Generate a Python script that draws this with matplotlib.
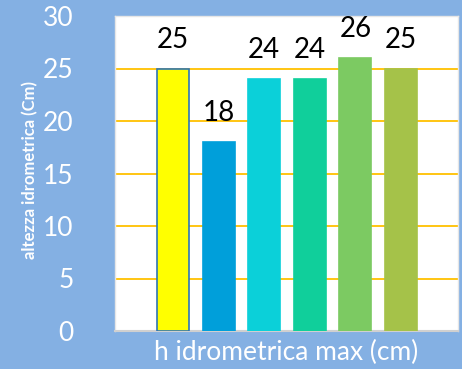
import matplotlib.pyplot as plt
import numpy as np

plt.rcParams["font.family"] = ["Lato", "DejaVu Sans"]

values = [25, 18, 24, 24, 26, 25]
colors = ["#FFFF00", "#009FDA", "#0BD0D9", "#10CF9B", "#7CCA62", "#A5C249"]
edges = ["#2E75B6", "#009FDA", "#0BD0D9", "#10CF9B", "#7CCA62", "#A5C249"]
xlabel = "h idrometrica max (cm)"
ylabel = "altezza idrometrica (Cm)"

bg = "#84B0E3"

fig = plt.figure(figsize=(4.62, 3.69), dpi=100, facecolor=bg)
ax = fig.add_axes([115 / 462, 1 - 331 / 369, 343 / 462, 315 / 369])
ax.set_facecolor("white")

x = np.arange(len(values))
ax.bar(x, values, width=0.70, color=colors, edgecolor=edges, linewidth=1.2, zorder=3)
for xi, v in zip(x, values):
    ax.text(xi, v + 1.5, str(v), ha="center", va="bottom", fontsize=20, color="black")

ax.set_xlim(-1.27, 6.25)
ax.set_ylim(0, 30)
ax.set_yticks(range(0, 31, 5))
ax.yaxis.grid(True, color="#FFC000", linewidth=1.3, zorder=1)
ax.set_xticks([])
ax.tick_params(axis="y", length=0, pad=30, labelsize=19, labelcolor="white")

for side in ["top", "right", "left"]:
    ax.spines[side].set_color("#E6E6E6")
    ax.spines[side].set_linewidth(1)
ax.spines["bottom"].set_color("#D0D0D0")
ax.spines["bottom"].set_linewidth(1.5)

fig.text(286 / 462, 1 - 352 / 369, xlabel, ha="center", va="center", fontsize=19, color="white")
fig.text(30 / 462, 1 - 170 / 369, ylabel, ha="center", va="center", rotation=90,
         fontsize=12, fontweight="bold", color="white")

fig.savefig("out.png", dpi=100, facecolor=bg)
